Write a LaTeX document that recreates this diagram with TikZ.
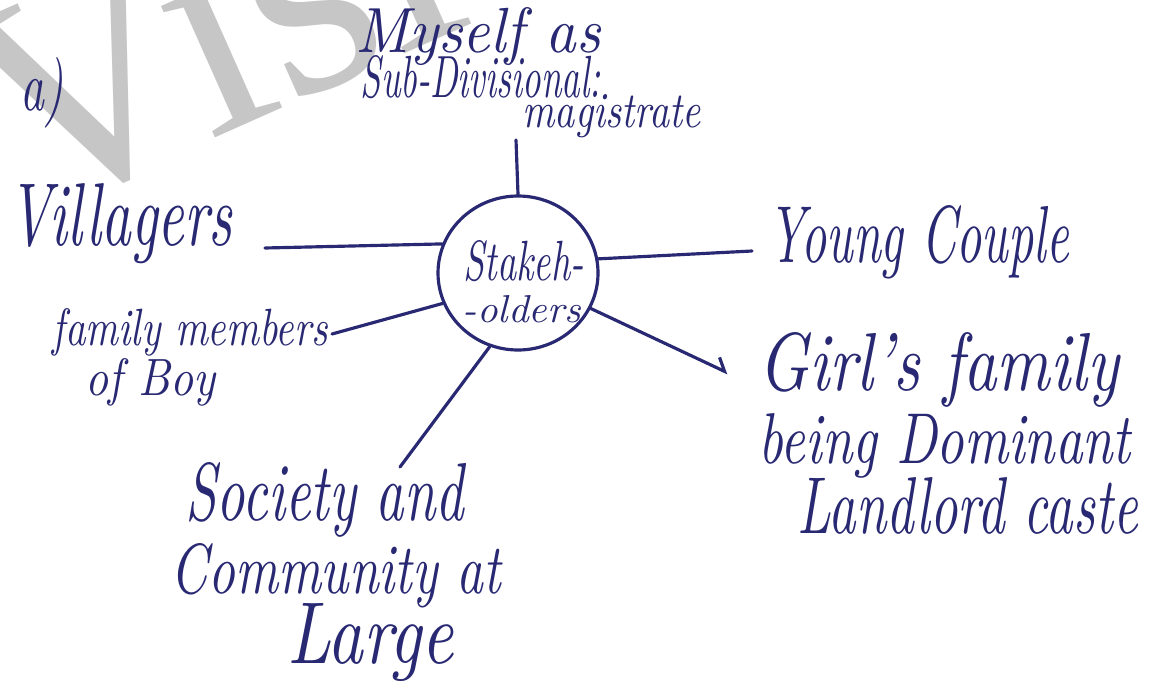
\documentclass[tikz,border=0pt]{standalone}
\usepackage{fontspec}
\usepackage{graphicx}
\usetikzlibrary{shapes.geometric,arrows.meta}
\newfontfamily\wmfont{Liberation Serif}
\definecolor{ink}{RGB}{40,40,115}
\definecolor{wm}{RGB}{198,198,198}
\newcommand{\hw}[3]{\resizebox{#1}{#2}{\itshape #3}}
\tikzset{
  lbl/.style={anchor=base west, inner sep=0pt, text=ink},
  link/.style={draw=ink, line width=0.9pt, line cap=round},
}
\begin{document}
\begin{tikzpicture}
\useasboundingbox (0,0) rectangle (11.53,6.98);
\clip (0,0) rectangle (11.53,6.98);
\fill[white] (0,0) rectangle (11.53,6.98);
% watermark
\node[anchor=base west, inner sep=0pt, rotate=24, text=wm, font=\wmfont\fontsize{88}{88}\selectfont] (wmark) at (0.22,4.74) {Visi};
% question label
\node[lbl] (qa) at (0.20,5.88) {\hw{0.43cm}{0.53cm}{a)}};
% central node
\node[draw=ink, line width=0.9pt, ellipse, minimum width=1.6cm, minimum height=1.54cm, inner sep=0pt] (stake) at (5.18,4.25) {};
\node[lbl] (s1) at (4.63,4.18) {\hw{1.2cm}{0.4cm}{Stakeh-}};
\node[lbl] (s2) at (4.62,3.76) {\hw{1.18cm}{0.27cm}{-olders}};
% top
\node[lbl] (m1) at (3.55,6.45) {\hw{2.45cm}{0.45cm}{Myself as}};
\node[lbl] (m2) at (3.60,6.01) {\hw{2.40cm}{0.42cm}{Sub-Divisional:}};
\node[lbl] (m3) at (5.22,5.71) {\hw{1.78cm}{0.33cm}{magistrate}};
% left
\node[lbl] (vil) at (0.08,4.53) {\hw{2.24cm}{0.62cm}{Villagers}};
\node[lbl] (fam1) at (0.52,3.53) {\hw{2.75cm}{0.37cm}{family members}};
\node[lbl] (fam2) at (0.85,3.03) {\hw{1.30cm}{0.37cm}{of Boy}};
% right
\node[lbl] (yc) at (7.68,4.36) {\hw{3.0cm}{0.57cm}{Young Couple}};
\node[lbl] (g1) at (7.58,3.08) {\hw{3.6cm}{0.58cm}{Girl's family}};
\node[lbl] (g2) at (7.58,2.35) {\hw{3.72cm}{0.50cm}{being Dominant}};
\node[lbl] (g3) at (7.97,1.65) {\hw{3.40cm}{0.56cm}{Landlord caste}};
% bottom
\node[lbl] (so1) at (1.85,1.78) {\hw{2.78cm}{0.58cm}{Society and}};
\node[lbl] (so2) at (1.70,1.05) {\hw{3.30cm}{0.50cm}{Community at}};
\node[lbl] (so3) at (2.87,0.35) {\hw{1.66cm}{0.60cm}{Large}};
% free ends of connectors
\coordinate (cTop) at (5.16,5.58);
\coordinate (cVil) at (2.65,4.50);
\coordinate (cYc) at (7.52,4.47);
\coordinate (cFam) at (3.32,3.64);
\coordinate (cGirl) at (7.28,3.25);
\coordinate (cSoc) at (4.00,2.31);
% connectors
\draw[link] (stake.north) -- (cTop);
\draw[link] (cVil) -- (stake.159);
\draw[link] (stake.10) -- (cYc);
\draw[link] (cFam) -- (stake.202);
\draw[link, -{Straight Barb[harpoon, length=3pt, width=6pt]}] (stake.-26) -- (cGirl);
\draw[link] (stake.249) -- (cSoc);
\end{tikzpicture}
\end{document}
